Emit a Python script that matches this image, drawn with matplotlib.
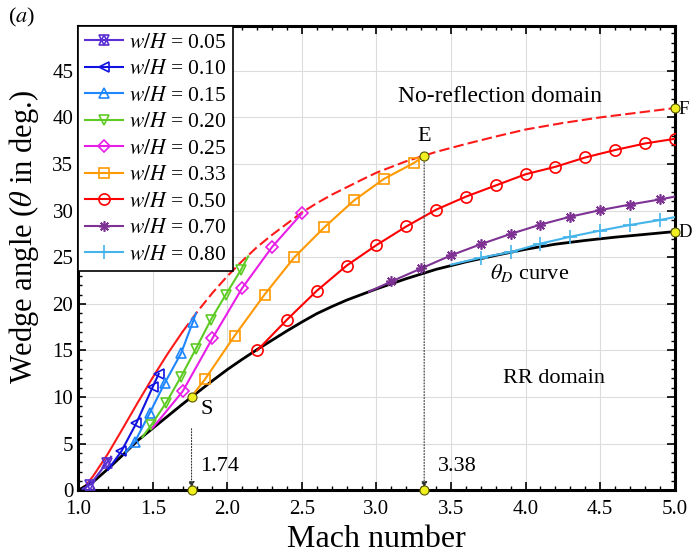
import matplotlib
matplotlib.use('Agg')
import matplotlib.pyplot as plt
from matplotlib.legend_handler import HandlerTuple

plt.rcParams['font.family'] = ['Liberation Serif', 'DejaVu Serif']
plt.rcParams['mathtext.fontset'] = 'stix'

# maximum deflection (no-reflection limit) and theta_D curve
mach_max = [1.0, 1.05, 1.1, 1.2, 1.3, 1.4, 1.5, 1.6, 1.7, 1.8, 1.9, 2.0, 2.1, 2.2, 2.3,
            2.4, 2.5, 2.6, 2.7, 2.8, 2.9, 3.0, 3.2, 3.4, 3.6, 3.8, 4.0, 4.25, 4.5, 4.75, 5.0]
theta_max = [0.0, 0.5, 1.52, 3.94, 6.66, 9.43, 12.11, 14.65, 17.01, 19.18, 21.17, 22.97,
             24.6, 26.1, 27.4, 28.6, 29.8, 30.8, 31.7, 32.5, 33.3, 34.07, 35.3, 36.3,
             37.15, 37.95, 38.7, 39.4, 40.0, 40.5, 41.0]
mach_d = [1.0, 1.1, 1.2, 1.3, 1.4, 1.5, 1.6, 1.7, 1.8, 1.9, 2.0, 2.1, 2.2, 2.3, 2.4,
          2.5, 2.6, 2.7, 2.8, 2.9, 3.0, 3.2, 3.4, 3.6, 3.8, 4.0, 4.2, 4.4, 4.6, 4.8, 5.0]
theta_d = [0.0, 0.9, 2.3, 3.8, 5.35, 6.65, 7.95, 9.25, 10.5, 11.75, 12.95, 14.05, 15.1,
           16.1, 17.1, 18.05, 18.95, 19.7, 20.4, 21.0, 21.6, 22.7, 23.7, 24.5, 25.2,
           25.85, 26.4, 26.8, 27.15, 27.45, 27.75]

# w/H series
m005 = [1.03, 1.08, 1.19, 1.22]
t005 = [0.15, 0.6, 2.9, 3.6]
m010 = [1.20, 1.29, 1.39, 1.50, 1.54]
t010 = [2.2, 4.2, 7.2, 11.1, 12.5]
m015 = [1.32, 1.38, 1.48, 1.58, 1.69, 1.77, 1.79]
t015 = [4.1, 5.2, 8.3, 11.5, 14.7, 18.1, 19.0]
m020 = [1.43, 1.49, 1.59, 1.69, 1.79, 1.89, 1.99, 2.09, 2.14]
t020 = [5.7, 7.0, 9.4, 12.2, 15.2, 18.3, 21.0, 23.6, 25.1]
m025 = [1.5, 1.7, 1.9, 2.1, 2.3, 2.5]
t025 = [6.7, 10.6, 16.3, 21.7, 26.1, 29.7]
m033 = [1.76, 1.85, 2.05, 2.25, 2.45, 2.65, 2.85, 3.05, 3.25, 3.32]
t033 = [10.05, 11.9, 16.6, 21.0, 25.0, 28.2, 31.1, 33.4, 35.1, 35.85]
m050 = [2.2, 2.4, 2.6, 2.8, 3.0, 3.2, 3.4, 3.6, 3.8, 4.0, 4.2, 4.4, 4.6, 4.8, 5.0]
t050 = [15.0, 18.3, 21.4, 24.1, 26.3, 28.3, 30.1, 31.5, 32.7, 33.9, 34.7, 35.7, 36.5, 37.2, 37.7]
m070 = [2.95, 3.1, 3.3, 3.5, 3.7, 3.9, 4.1, 4.3, 4.5, 4.7, 4.9, 5.0]
t070 = [21.3, 22.4, 23.8, 25.2, 26.4, 27.5, 28.5, 29.35, 30.05, 30.65, 31.2, 31.5]
m080 = [3.5, 3.7, 3.9, 4.1, 4.3, 4.5, 4.7, 4.9, 5.0]
t080 = [24.2, 24.95, 25.55, 26.46, 27.2, 27.85, 28.46, 28.99, 29.3]

# special points
pt_s = (1.76, 10.05)
pt_e = (3.32, 35.85)
pt_f = (5.0, 41.0)
pt_d = (5.0, 27.75)

fig = plt.figure(figsize=(6.92, 5.54), dpi=100)
ax = fig.add_axes([0.113, 0.115, 0.862, 0.838])

lw = 1.5
ms = 7.5
ax.plot(mach_d, theta_d, color='k', lw=2.0, zorder=4)
# lower part of the limit curve is solid, rest dashed
n_solid = 9
ax.plot(mach_max[:n_solid], theta_max[:n_solid], color='#ff1a1a', lw=lw, zorder=3)
ax.plot(mach_max[n_solid - 1:], theta_max[n_solid - 1:], color='#ff1a1a', lw=lw,
        dashes=(5, 2), zorder=3)

handles = []
# w/H = 0.05 : star of David built from two triangles
c = '#5a2fd2'
h1, = ax.plot(m005, t005, color=c, lw=lw, marker='^', ms=ms, mfc='none', mew=1.2,
              markevery=[1, 2], zorder=5)
h2, = ax.plot(m005, t005, color=c, lw=0, marker='v', ms=ms, mfc='none', mew=1.2,
              markevery=[1, 2], zorder=5)
handles.append((h1, h2))

styles = [
    (m010, t010, '#1212e0', '<', [1, 2, 3, 4]),
    (m015, t015, '#1e86ff', '^', [1, 2, 3, 4, 5]),
    (m020, t020, '#5ecb24', 'v', [1, 2, 3, 4, 5, 6, 7]),
    (m025, t025, '#e81ee8', 'D', [1, 2, 3, 4, 5]),
    (m033, t033, '#ff9900', 's', [1, 2, 3, 4, 5, 6, 7, 8]),
    (m050, t050, '#ff0000', 'o', list(range(len(m050)))),
    (m070, t070, '#7d3294', (8, 2, 0), list(range(1, 11))),
    (m080, t080, '#45b4ea', '+', list(range(1, 8))),
]
for m, t, col, mk, every in styles:
    size = ms
    if mk == 'D':
        size = ms * 0.8
    elif mk == 's':
        size = ms * 0.9
    elif mk == 'o':
        size = ms * 1.07
    elif mk == '+':
        size = ms * 1.35
    h, = ax.plot(m, t, color=col, lw=lw, marker=mk, ms=size, mfc='none', mew=1.2,
                 markevery=every, zorder=5)
    handles.append(h)

labels = ['$w/H$ = 0.05', '$w/H$ = 0.10', '$w/H$ = 0.15', '$w/H$ = 0.20', '$w/H$ = 0.25',
          '$w/H$ = 0.33', '$w/H$ = 0.50', '$w/H$ = 0.70', '$w/H$ = 0.80']
leg = ax.legend(handles, labels, loc='upper left', borderaxespad=0, fontsize=15.5,
                handler_map={tuple: HandlerTuple(ndivide=1, pad=0)},
                handlelength=1.8, labelspacing=0.3, borderpad=0.3, handletextpad=0.25,
                fancybox=False, framealpha=1, edgecolor='k')
leg.get_frame().set_linewidth(1.2)
leg.set_zorder(10)

# yellow points
yel = dict(marker='o', ms=6.5, mfc='#f0f020', mec='#555500', mew=0.8, ls='none',
           clip_on=False, zorder=8)
ax.plot([pt_s[0], pt_e[0], pt_f[0], pt_d[0], pt_s[0], pt_e[0]],
        [pt_s[1], pt_e[1], pt_f[1], pt_d[1], 0, 0], **yel)

# dotted arrows
ap = dict(arrowstyle='-|>', color='#333333', lw=0.8, ls=':', mutation_scale=9,
          shrinkA=0, shrinkB=0)
ax.annotate('', xy=(pt_s[0], 0.25), xytext=(pt_s[0], 6.6), arrowprops=ap, zorder=6)
ax.annotate('', xy=(pt_e[0], 0.25), xytext=pt_e, arrowprops=ap, zorder=6)

fs = 16
ax.text(1.82, 2.6, '1.74', fontsize=fs, va='center', ha='left')
ax.text(3.41, 2.6, '3.38', fontsize=fs, va='center', ha='left')
ax.text(1.86, 8.7, 'S', fontsize=fs, va='center', ha='center')
ax.text(3.32, 38.0, 'E', fontsize=fs, va='center', ha='center')
ax.text(5.024, 40.8, 'F', fontsize=13.5, va='center', ha='left', clip_on=False)
ax.text(5.024, 27.7, 'D', fontsize=13.5, va='center', ha='left', clip_on=False)
ax.text(3.83, 42.2, 'No-reflection domain', fontsize=17, va='center', ha='center')
ax.text(4.03, 23.3, r'$\theta_D$ curve', fontsize=fs, va='center', ha='center')
ax.text(4.19, 11.95, 'RR domain', fontsize=fs, va='center', ha='center')
fig.text(0.012, 0.968, '($a$)', fontsize=16, va='center', ha='left')

ax.set_xlim(1.0, 5.0)
ax.set_ylim(0, 49.8)
ax.set_xticks([1.0, 1.5, 2.0, 2.5, 3.0, 3.5, 4.0, 4.5, 5.0])
ax.set_xticklabels(['1.0', '1.5', '2.0', '2.5', '3.0', '3.5', '4.0', '4.5', '5.0'])
ax.set_yticks(range(0, 50, 5))
ax.set_xticks([1.0 + 0.1 * i for i in range(41)], minor=True)
ax.set_yticks(range(0, 50), minor=True)
ax.tick_params(which='both', direction='in', top=True, right=True, labelsize=15)
ax.tick_params(which='major', length=6, width=1.2)
ax.tick_params(which='minor', length=3, width=1.0)
ax.tick_params(axis='x', pad=7)
for sp in ax.spines.values():
    sp.set_linewidth(2.2)
ax.grid(True, which='major', color='#dcdcdc', lw=0.8)
ax.set_axisbelow(True)

ax.set_xlabel('Mach number', fontsize=23)
ax.set_ylabel(r'Wedge angle ($\theta$ in deg.)', fontsize=22)
ax.yaxis.set_label_coords(-0.062, 0.545)

fig.savefig('out.png', dpi=100)
